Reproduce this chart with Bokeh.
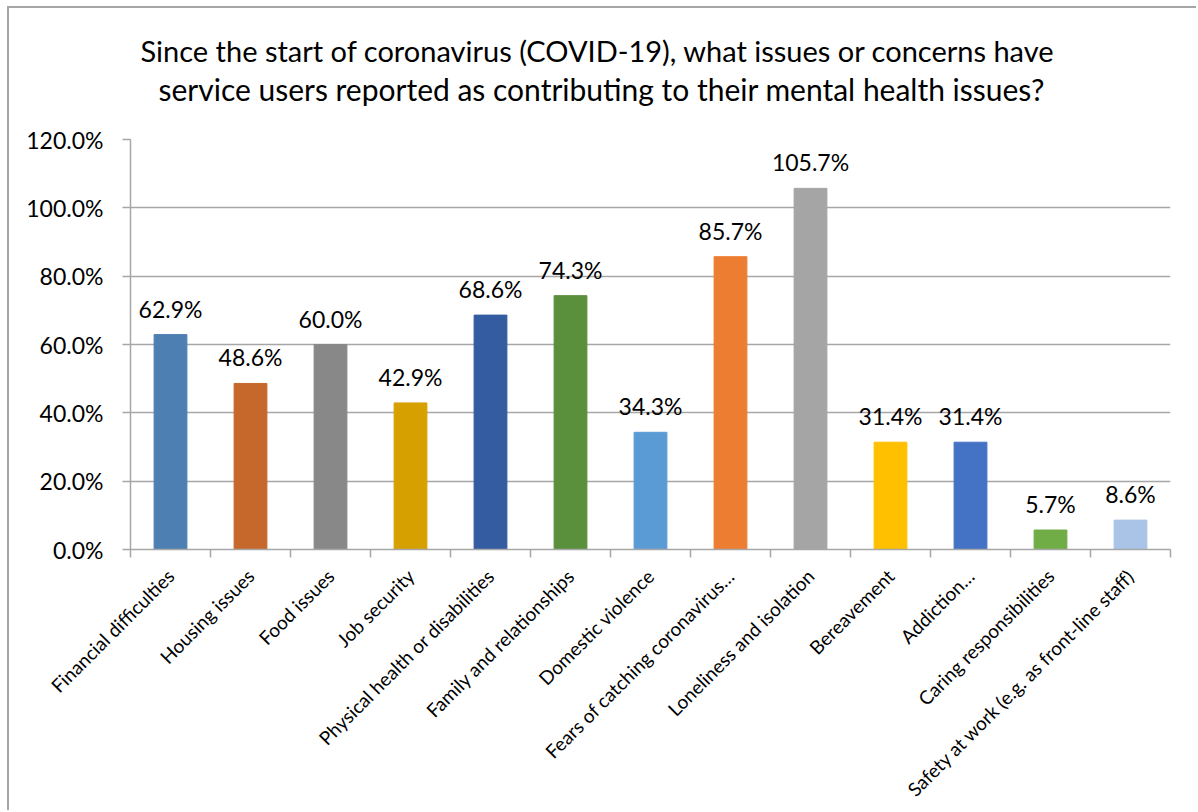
import math
from bokeh.plotting import figure
from bokeh.models import (ColumnDataSource, FixedTicker, PrintfTickFormatter,
                          LabelSet, Range1d, Title)
from bokeh.core.properties import value
from bokeh.embed import file_html
from bokeh.resources import INLINE

categories = ["Financial difficulties", "Housing issues", "Food issues", "Job security",
              "Physical health or disabilities", "Family and relationships",
              "Domestic violence", "Fears of catching coronavirus\u2026",
              "Loneliness and isolation", "Bereavement", "Addiction\u2026",
              "Caring responsibilities", "Safety at work (e.g. as front-line staff)"]
values = [62.9, 48.6, 60.0, 42.9, 68.6, 74.3, 34.3, 85.7, 105.7, 31.4, 31.4, 5.7, 8.6]
colors = ["#4e7fb3", "#c6682b", "#888888", "#d6a000", "#345ca0", "#5a8f3c",
          "#5b9bd5", "#ed7d31", "#a5a5a5", "#ffc000", "#4472c4", "#70ad47", "#a9c4e6"]
y_ticks = [0, 20, 40, 60, 80, 100, 120]
title_line1 = "Since the start of coronavirus (COVID-19), what issues or concerns have"
title_line2 = "service users reported as contributing to their mental health issues?"

FONT = "Lato"
GRID = "#a6a6a6"

n = len(categories)
centers = [i + 0.5 for i in range(n)]
bounds = list(range(n + 1))

src = ColumnDataSource(dict(
    x=centers, top=values, color=colors, cat=categories,
    label=[f"{v:.1f}%" for v in values],
))

p = figure(width=1189, height=804, output_backend="svg", toolbar_location=None,
           x_range=Range1d(0, n), y_range=Range1d(0, 120),
           min_border_left=121, min_border_right=28, min_border_top=131,
           min_border_bottom=263,
           styles={"border-left": "2px solid #a6a6a6", "border-top": "2px solid #a6a6a6",
                   "margin-left": "7px", "margin-top": "6px"})
p.outline_line_color = None
p.title = None

# spacer between plot area and the two-line title
t0 = Title(text=" ", text_font_size="1px", standoff=29)
t2 = Title(text=title_line2, align="left", text_font=FONT, text_font_size="30px",
           text_font_style="normal", text_color="#000000", offset=28, standoff=2)
t1 = Title(text=title_line1, align="left", text_font=FONT, text_font_size="29px",
           text_font_style="normal", text_color="#000000", offset=10, standoff=0)
p.add_layout(t0, "above")
p.add_layout(t2, "above")
p.add_layout(t1, "above")

p.vbar(x="x", top="top", width=0.41, color="color", source=src)

labels = LabelSet(x="x", y="top", text="label", source=src, text_align="center",
                  text_baseline="alphabetic", y_offset=17, text_font=value(FONT),
                  text_font_size=value("23px"), text_color="#000000")
p.add_layout(labels)

# x axis
xa = p.xaxis[0]
xa.ticker = FixedTicker(ticks=centers, minor_ticks=bounds)
xa.major_label_overrides = {c: cat for c, cat in zip(centers, categories)}
xa.major_label_orientation = math.pi / 4
xa.major_tick_out = 0
xa.major_tick_in = 0
xa.minor_tick_out = 8
xa.minor_tick_in = 0
xa.minor_tick_line_color = GRID
xa.minor_tick_line_width = 1.5
xa.axis_line_color = GRID
xa.axis_line_width = 1.5
xa.major_label_text_font = FONT
xa.major_label_text_font_size = "19px"
xa.major_label_text_color = "#000000"
xa.major_label_standoff = 15

# y axis
ya = p.yaxis[0]
ya.ticker = FixedTicker(ticks=y_ticks)
ya.formatter = PrintfTickFormatter(format="%.1f%%")
ya.major_tick_out = 8
ya.major_tick_in = 0
ya.minor_tick_out = 0
ya.minor_tick_in = 0
ya.major_tick_line_color = GRID
ya.major_tick_line_width = 1.5
ya.axis_line_color = GRID
ya.axis_line_width = 1.5
ya.major_label_text_font = FONT
ya.major_label_text_font_size = "23px"
ya.major_label_text_color = "#000000"
ya.major_label_standoff = 19

p.xgrid.grid_line_color = None
p.ygrid.ticker = FixedTicker(ticks=y_ticks)
p.ygrid.grid_line_color = GRID
p.ygrid.grid_line_width = 1.5

open("out.html", "w").write(file_html(p, INLINE))
